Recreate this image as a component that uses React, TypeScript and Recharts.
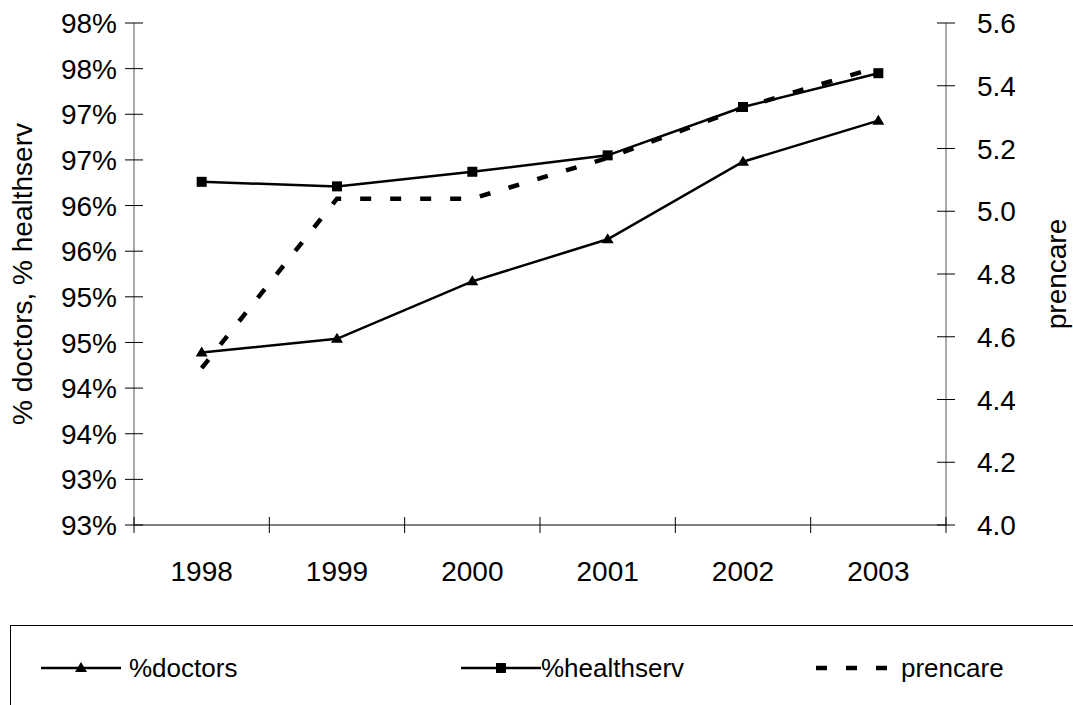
import React from 'react';
import { LineChart, Line, XAxis, YAxis } from 'recharts';

const years = ['1998', '1999', '2000', '2001', '2002', '2003'];
const doctors = [0.9439, 0.9454, 0.9517, 0.9563, 0.9648, 0.9693];
const healthserv = [0.9626, 0.9621, 0.9637, 0.9655, 0.9708, 0.9745];
const prencare = [4.5, 5.04, 5.04, 5.17, 5.33, 5.46];

const leftTicks = [0.925, 0.93, 0.935, 0.94, 0.945, 0.95, 0.955, 0.96, 0.965, 0.97, 0.975, 0.98];
const leftTickLabels = ['93%', '93%', '94%', '94%', '95%', '95%', '96%', '96%', '97%', '97%', '98%', '98%'];
const rightTicks = [4.0, 4.2, 4.4, 4.6, 4.8, 5.0, 5.2, 5.4, 5.6];

const data = years.map((year, i) => ({
  year,
  doctors: doctors[i],
  healthserv: healthserv[i],
  prencare: prencare[i],
}));

const W = 1073;
const H = 600;
const margin = { top: 23, right: 47, bottom: 35, left: 54 };
const yAxisW = 80;
const plotW = W - margin.left - margin.right - 2 * yAxisW;
const band = plotW / years.length;
const FONT = '"Liberation Sans", Arial, sans-serif';
const FS = 28;
const TICK = 9;

const LeftTick = (props: any) => {
  const { x, y, index } = props;
  const ax = x + 8 + TICK;
  return (
    <g>
      <line x1={ax - TICK} x2={ax + TICK} y1={y} y2={y} stroke="#000" strokeWidth={1} />
      <text x={x} y={y} dy="0.36em" textAnchor="end" fontSize={FS} fontFamily={FONT} fill="#000">
        {leftTickLabels[index]}
      </text>
    </g>
  );
};

const RightTick = (props: any) => {
  const { x, y, payload } = props;
  const ax = x - 22 - TICK;
  return (
    <g>
      <line x1={ax - TICK} x2={ax + TICK} y1={y} y2={y} stroke="#000" strokeWidth={1} />
      <text x={x} y={y} dy="0.36em" textAnchor="start" fontSize={FS} fontFamily={FONT} fill="#000">
        {Number(payload.value).toFixed(1)}
      </text>
    </g>
  );
};

const BottomTick = (props: any) => {
  const { x, y, payload, index } = props;
  const ay = y - 28 - 8;
  const last = index === years.length - 1;
  return (
    <g>
      <line x1={x - band / 2} x2={x - band / 2} y1={ay - 8} y2={ay + 8} stroke="#000" strokeWidth={1} />
      {last && <line x1={x + band / 2} x2={x + band / 2} y1={ay - 8} y2={ay + 8} stroke="#000" strokeWidth={1} />}
      <text x={x} y={y} dy="0.71em" textAnchor="middle" fontSize={FS} fontFamily={FONT} fill="#000">
        {payload.value}
      </text>
    </g>
  );
};

const Triangle = (props: any) => {
  const { cx, cy } = props;
  if (cx == null || cy == null) return <g />;
  return <path d={`M${cx},${cy - 6} L${cx + 6},${cy + 4} L${cx - 6},${cy + 4} Z`} fill="#000" />;
};

const Square = (props: any) => {
  const { cx, cy } = props;
  if (cx == null || cy == null) return <g />;
  return <rect x={cx - 5} y={cy - 5} width={10} height={10} fill="#000" />;
};

const LegendItem = ({ kind, label, left, textLeft }: { kind: string; label: string; left: number; textLeft: number }) => (
  <>
    <svg style={{ position: 'absolute', left, top: 30 }} width={90} height={24}>
      {kind === 'dash' ? (
        <line x1={0} x2={72} y1={12} y2={12} stroke="#000" strokeWidth={4.5} strokeDasharray="11 19" />
      ) : (
        <line x1={0} x2={80} y1={12} y2={12} stroke="#000" strokeWidth={2.5} />
      )}
      {kind === 'tri' && <path d="M40,6 L46,16 L34,16 Z" fill="#000" />}
      {kind === 'sq' && <rect x={35} y={7} width={10} height={10} fill="#000" />}
    </svg>
    <div
      style={{
        position: 'absolute',
        left: textLeft,
        top: 26,
        fontSize: 26,
        fontFamily: FONT,
        lineHeight: '32px',
        whiteSpace: 'nowrap',
      }}
    >
      {label}
    </div>
  </>
);

export default function App() {
  return (
    <div style={{ position: 'absolute', left: 0, top: 0, width: W, height: 705, overflow: 'hidden', background: '#fff' }}>
      <LineChart width={W} height={H} data={data} margin={margin}>
        <XAxis
          dataKey="year"
          axisLine={{ stroke: '#000', strokeWidth: 1 }}
          tickLine={false}
          tickSize={8}
          tickMargin={28}
          height={40}
          interval={0}
          padding={{ left: band / 2, right: band / 2 }}
          tick={<BottomTick />}
        />
        <YAxis
          yAxisId="left"
          orientation="left"
          domain={[0.925, 0.98]}
          ticks={leftTicks}
          interval={0}
          width={yAxisW}
          axisLine={{ stroke: '#555', strokeWidth: 1 }}
          tickLine={false}
          tickSize={TICK}
          tickMargin={8}
          tick={<LeftTick />}
          label={{
            value: '% doctors, % healthserv',
            angle: -90,
            position: 'insideLeft',
            offset: 0,
            dx: -32,
            style: { textAnchor: 'middle', fontSize: FS, fontFamily: FONT, fill: '#000' },
          }}
        />
        <YAxis
          yAxisId="right"
          orientation="right"
          domain={[4.0, 5.6]}
          ticks={rightTicks}
          interval={0}
          width={yAxisW}
          axisLine={{ stroke: '#555', strokeWidth: 1 }}
          tickLine={false}
          tickSize={TICK}
          tickMargin={22}
          tick={<RightTick />}
          label={{
            value: 'prencare',
            angle: -90,
            position: 'insideRight',
            offset: 0,
            dx: 30,
            style: { textAnchor: 'middle', fontSize: FS, fontFamily: FONT, fill: '#000' },
          }}
        />
        <Line
          yAxisId="left"
          dataKey="doctors"
          stroke="#000"
          strokeWidth={2.5}
          dot={<Triangle />}
          activeDot={false}
          isAnimationActive={false}
        />
        <Line
          yAxisId="left"
          dataKey="healthserv"
          stroke="#000"
          strokeWidth={2.5}
          dot={<Square />}
          activeDot={false}
          isAnimationActive={false}
        />
        <Line
          yAxisId="right"
          dataKey="prencare"
          stroke="#000"
          strokeWidth={4.5}
          strokeDasharray="11 19"
          dot={false}
          activeDot={false}
          isAnimationActive={false}
        />
      </LineChart>
      <div
        style={{
          position: 'absolute',
          left: 10,
          top: 625,
          width: W,
          height: 120,
          borderTop: '1px solid #000',
          borderLeft: '1px solid #000',
        }}
      >
        <LegendItem kind="tri" label="%doctors" left={30} textLeft={118} />
        <LegendItem kind="sq" label="%healthserv" left={450} textLeft={530} />
        <LegendItem kind="dash" label="prencare" left={805} textLeft={890} />
      </div>
    </div>
  );
}
